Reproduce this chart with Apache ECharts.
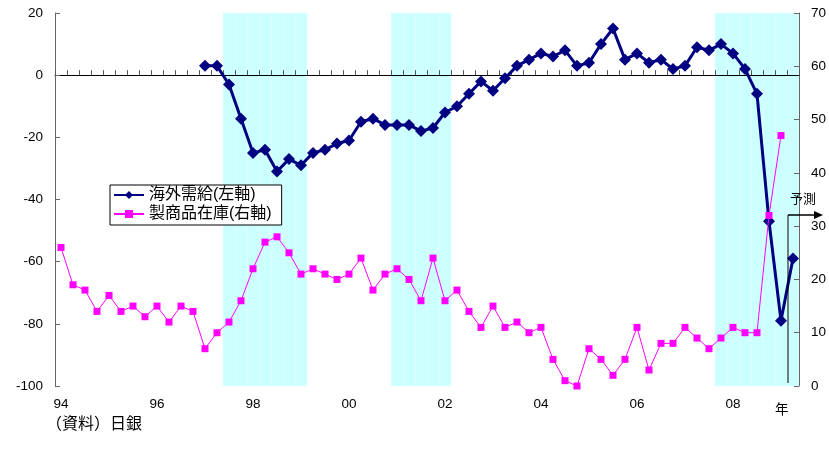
<!DOCTYPE html>
<html>
<head>
<meta charset="utf-8">
<script src="https://cdn.jsdelivr.net/npm/echarts@6/dist/echarts.min.js"></script>
<style>
  html, body { margin: 0; padding: 0; background: #fff; }
  #chart { width: 829px; height: 450px; }
</style>
</head>
<body>
<div id="chart"></div>
<script>
// quarterly categories, 94Q1 .. 09Q2
const quarters = [
  '94Q1','94Q2','94Q3','94Q4','95Q1','95Q2','95Q3','95Q4',
  '96Q1','96Q2','96Q3','96Q4','97Q1','97Q2','97Q3','97Q4',
  '98Q1','98Q2','98Q3','98Q4','99Q1','99Q2','99Q3','99Q4',
  '00Q1','00Q2','00Q3','00Q4','01Q1','01Q2','01Q3','01Q4',
  '02Q1','02Q2','02Q3','02Q4','03Q1','03Q2','03Q3','03Q4',
  '04Q1','04Q2','04Q3','04Q4','05Q1','05Q2','05Q3','05Q4',
  '06Q1','06Q2','06Q3','06Q4','07Q1','07Q2','07Q3','07Q4',
  '08Q1','08Q2','08Q3','08Q4','09Q1','09Q2'
];
const yearLabels = ['94', '96', '98', '00', '02', '04', '06', '08'];

// 海外需給 (left axis)
const overseasDemand = [
  null, null, null, null, null, null, null, null,
  null, null, null, null, 3, 3, -3, -14,
  -25, -24, -31, -27, -29, -25, -24, -22,
  -21, -15, -14, -16, -16, -16, -18, -17,
  -12, -10, -6, -2, -5, -1, 3, 5,
  7, 6, 8, 3, 4, 10, 15, 5,
  7, 4, 5, 2, 3, 9, 8, 10,
  7, 2, -6, -47, -79, -59
];

// 製商品在庫 (right axis)
const inventory = [
  26, 19, 18, 14, 17, 14, 15, 13,
  15, 12, 15, 14, 7, 10, 12, 16,
  22, 27, 28, 25, 21, 22, 21, 20,
  21, 24, 18, 21, 22, 20, 16, 24,
  16, 18, 14, 11, 15, 11, 12, 10,
  11, 5, 1, 0, 7, 5, 2, 5,
  11, 3, 8, 8, 11, 9, 7, 9,
  11, 10, 10, 32, 47, null
];

// shaded periods (first and last quarter)
const recessions = [['97Q3', '99Q1'], ['01Q1', '02Q1'], ['07Q4', '09Q2']];

const shade = quarters.map((q, i) =>
  recessions.some(([a, b]) => i >= quarters.indexOf(a) && i <= quarters.indexOf(b)) ? 1 : null
);

const font = '"Liberation Sans", "Noto Sans CJK JP", sans-serif';
const chart = echarts.init(document.getElementById('chart'));

chart.setOption({
  animation: false,
  textStyle: { fontFamily: font },
  grid: { left: 55, right: 27, top: 13, bottom: 64 },
  legend: {
    data: ['海外需給(左軸)', '製商品在庫(右軸)'],
    orient: 'vertical',
    left: 110,
    top: 185,
    padding: [2, 10, 3, 3],
    itemGap: 3,
    itemWidth: 30,
    itemHeight: 10,
    backgroundColor: '#fff',
    borderColor: '#000',
    borderWidth: 1,
    borderRadius: 0,
    textStyle: { fontSize: 16, color: '#000', fontFamily: font }
  },
  xAxis: [
    {
      // zero line with quarter ticks
      type: 'category',
      data: quarters,
      boundaryGap: true,
      axisLine: { show: true, onZero: true, onZeroAxisIndex: 0, lineStyle: { color: '#000', width: 1 } },
      axisTick: { show: true, inside: true, interval: 0, length: 5, lineStyle: { color: '#555', width: 1 } },
      axisLabel: { show: true, interval: 0, formatter: () => '' },
      splitLine: { show: false }
    },
    {
      // year labels at the bottom
      type: 'category',
      data: quarters,
      position: 'bottom',
      boundaryGap: true,
      axisLine: { show: false, onZero: false },
      axisTick: { show: false },
      axisLabel: {
        interval: 0,
        margin: 12,
        color: '#000',
        fontSize: 13.5,
        formatter: v => (v.endsWith('Q1') && yearLabels.includes(v.slice(0, 2))) ? v.slice(0, 2) : ''
      }
    }
  ],
  yAxis: [
    {
      type: 'value',
      position: 'left',
      min: -100, max: 20, interval: 20,
      axisLine: { show: true, lineStyle: { color: '#666' } },
      axisTick: { show: true, inside: true, length: 5, lineStyle: { color: '#666' } },
      axisLabel: { color: '#000', fontSize: 13.5, margin: 12 },
      splitLine: { show: false }
    },
    {
      type: 'value',
      position: 'right',
      min: 0, max: 70, interval: 10,
      axisLine: { show: true, lineStyle: { color: '#666' } },
      axisTick: { show: true, inside: true, length: 5, lineStyle: { color: '#666' } },
      axisLabel: { color: '#000', fontSize: 13.5, margin: 12 },
      splitLine: { show: false }
    },
    { type: 'value', min: 0, max: 1, show: false }
  ],
  series: [
    {
      name: 'shade',
      type: 'bar',
      xAxisIndex: 0,
      yAxisIndex: 2,
      data: shade,
      barWidth: '100%',
      barCategoryGap: '0%',
      itemStyle: { color: '#ccffff', borderColor: '#ccffff', borderWidth: 0.5 },
      silent: true,
      z: -1
    },
    {
      name: '海外需給(左軸)',
      type: 'line',
      yAxisIndex: 0,
      data: overseasDemand,
      symbol: 'diamond',
      symbolSize: 12,
      showAllSymbol: true,
      color: '#000080',
      lineStyle: { width: 3, color: '#000080' },
      itemStyle: { color: '#000080' },
      z: 4
    },
    {
      name: '製商品在庫(右軸)',
      type: 'line',
      yAxisIndex: 1,
      data: inventory,
      symbol: 'rect',
      symbolSize: 7,
      showAllSymbol: true,
      color: '#ff00ff',
      lineStyle: { width: 1, color: '#ff00ff' },
      itemStyle: { color: '#ff00ff' },
      z: 5
    }
  ],
  graphic: [
    { type: 'line', shape: { x1: 788, y1: 215, x2: 788, y2: 383 }, style: { stroke: '#000', lineWidth: 1 }, z: 10 },
    { type: 'line', shape: { x1: 788, y1: 215, x2: 816, y2: 215 }, style: { stroke: '#000', lineWidth: 1.5 }, z: 10 },
    { type: 'polygon', shape: { points: [[823, 215], [814, 211], [814, 219]] }, style: { fill: '#000' }, z: 10 },
    { type: 'text', left: 790, top: 193, style: { text: '予測', fontSize: 13, fill: '#000', fontFamily: font }, z: 10 },
    { type: 'text', left: 775, top: 404, style: { text: '年', fontSize: 13.5, fill: '#000', fontFamily: font } },
    { type: 'text', left: 46, top: 417, style: { text: '（資料）日銀', fontSize: 16, fill: '#000', fontFamily: font } }
  ]
});
</script>
</body>
</html>
